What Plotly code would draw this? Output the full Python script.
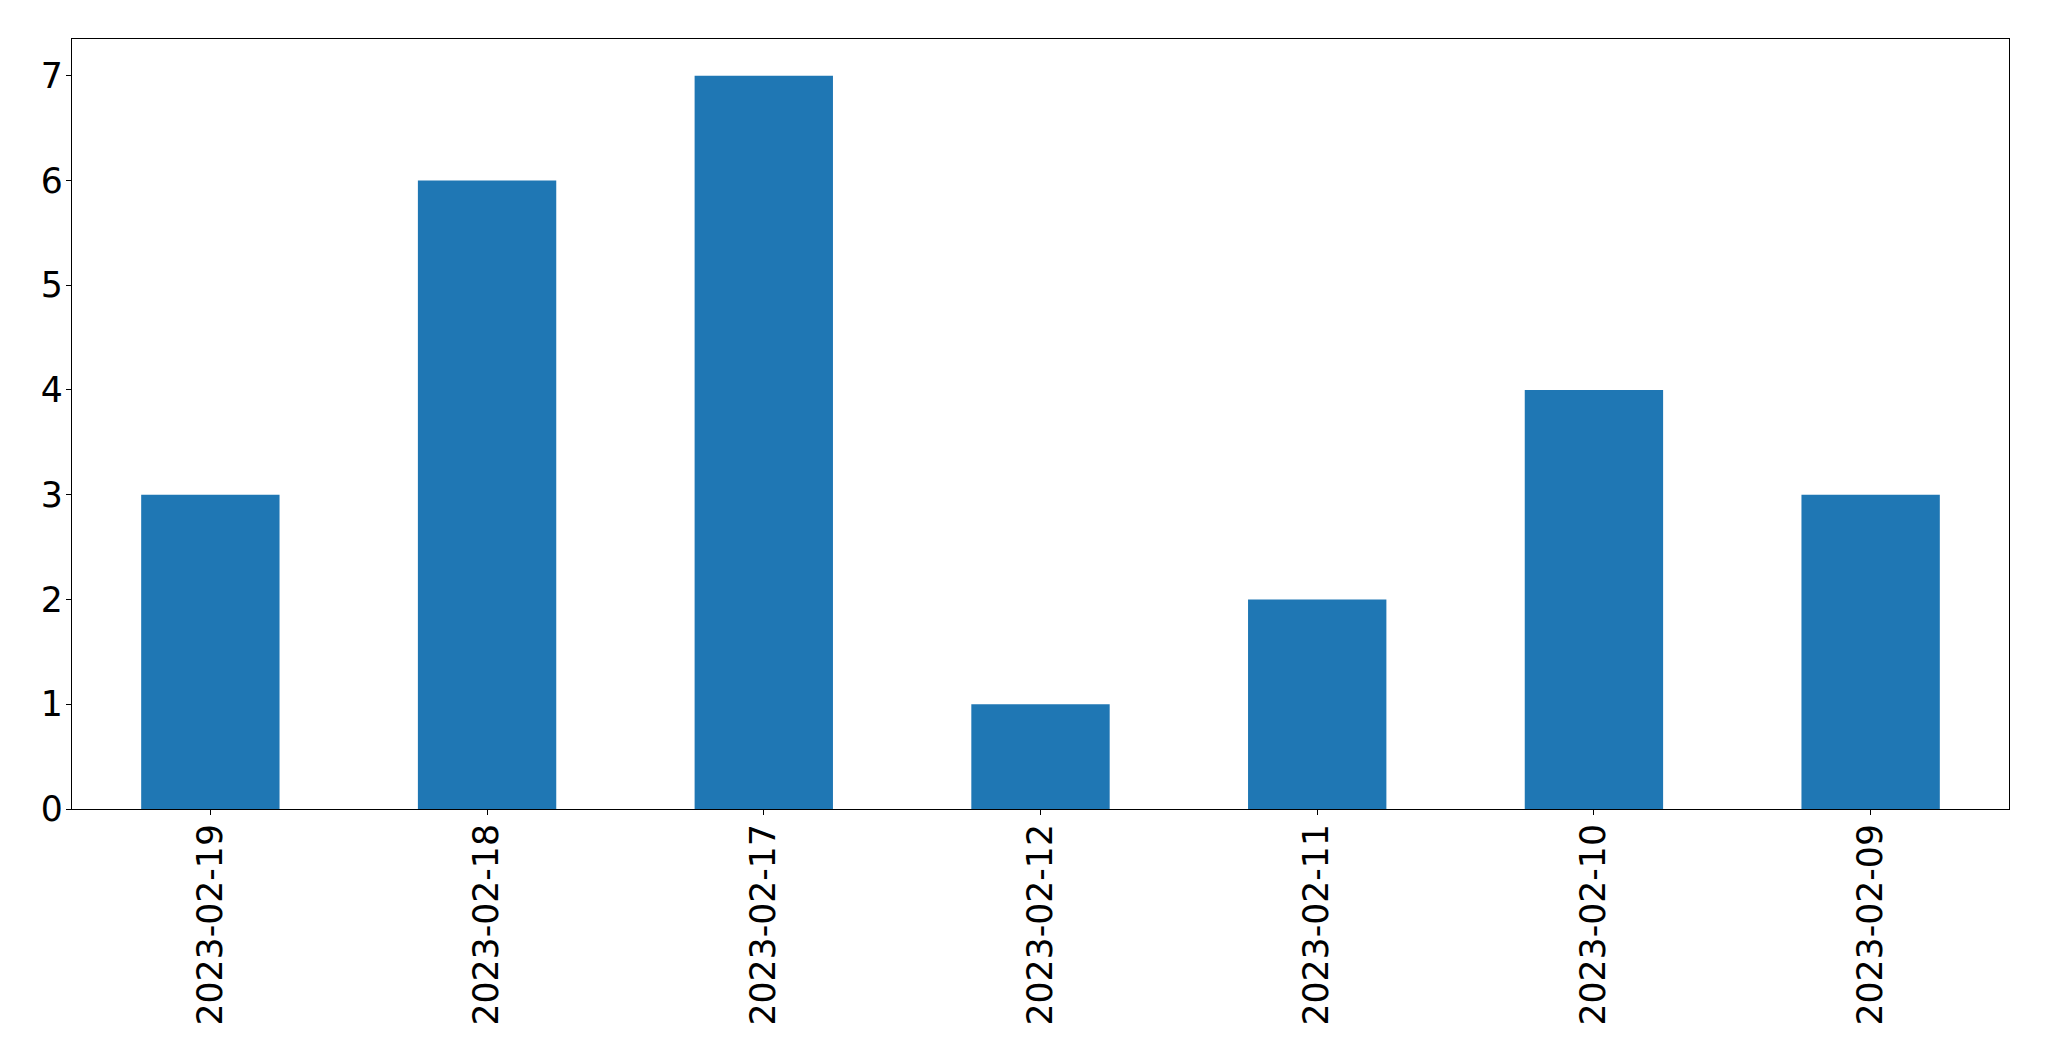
import plotly.graph_objects as go

categories = ["2023-02-19", "2023-02-18", "2023-02-17", "2023-02-12",
              "2023-02-11", "2023-02-10", "2023-02-09"]
values = [3, 6, 7, 1, 2, 4, 3]
y_ticks = [0, 1, 2, 3, 4, 5, 6, 7]

fig = go.Figure()
fig.add_trace(go.Bar(x=categories, y=values, marker_color="#1f77b4",
                     marker_line_width=0, width=0.5))

font = dict(family="DejaVu Sans", size=34.7, color="black")
fig.update_layout(
    width=2041, height=1053,
    margin=dict(l=64, r=40, t=31, b=252, autoexpand=False),
    plot_bgcolor="white", paper_bgcolor="white",
    showlegend=False,
    font=font,
    bargap=0.5,
)
fig.update_xaxes(type="category", range=[-0.5, 6.5], tickangle=-90,
                 showline=True, mirror=True, linecolor="black", linewidth=1.3,
                 ticks="outside", ticklen=5, tickcolor="black", tickwidth=1.3,
                 showgrid=False, tickfont=font, automargin=False,
                 ticklabelstandoff=-5)
fig.update_yaxes(range=[0, 7.35], tickvals=y_ticks,
                 showline=True, mirror=True, linecolor="black", linewidth=1.3,
                 ticks="outside", ticklen=5, tickcolor="black", tickwidth=1.3,
                 showgrid=False, zeroline=False, tickfont=font, automargin=False,
                 ticklabelstandoff=-4)

fig.write_html("out.html")
